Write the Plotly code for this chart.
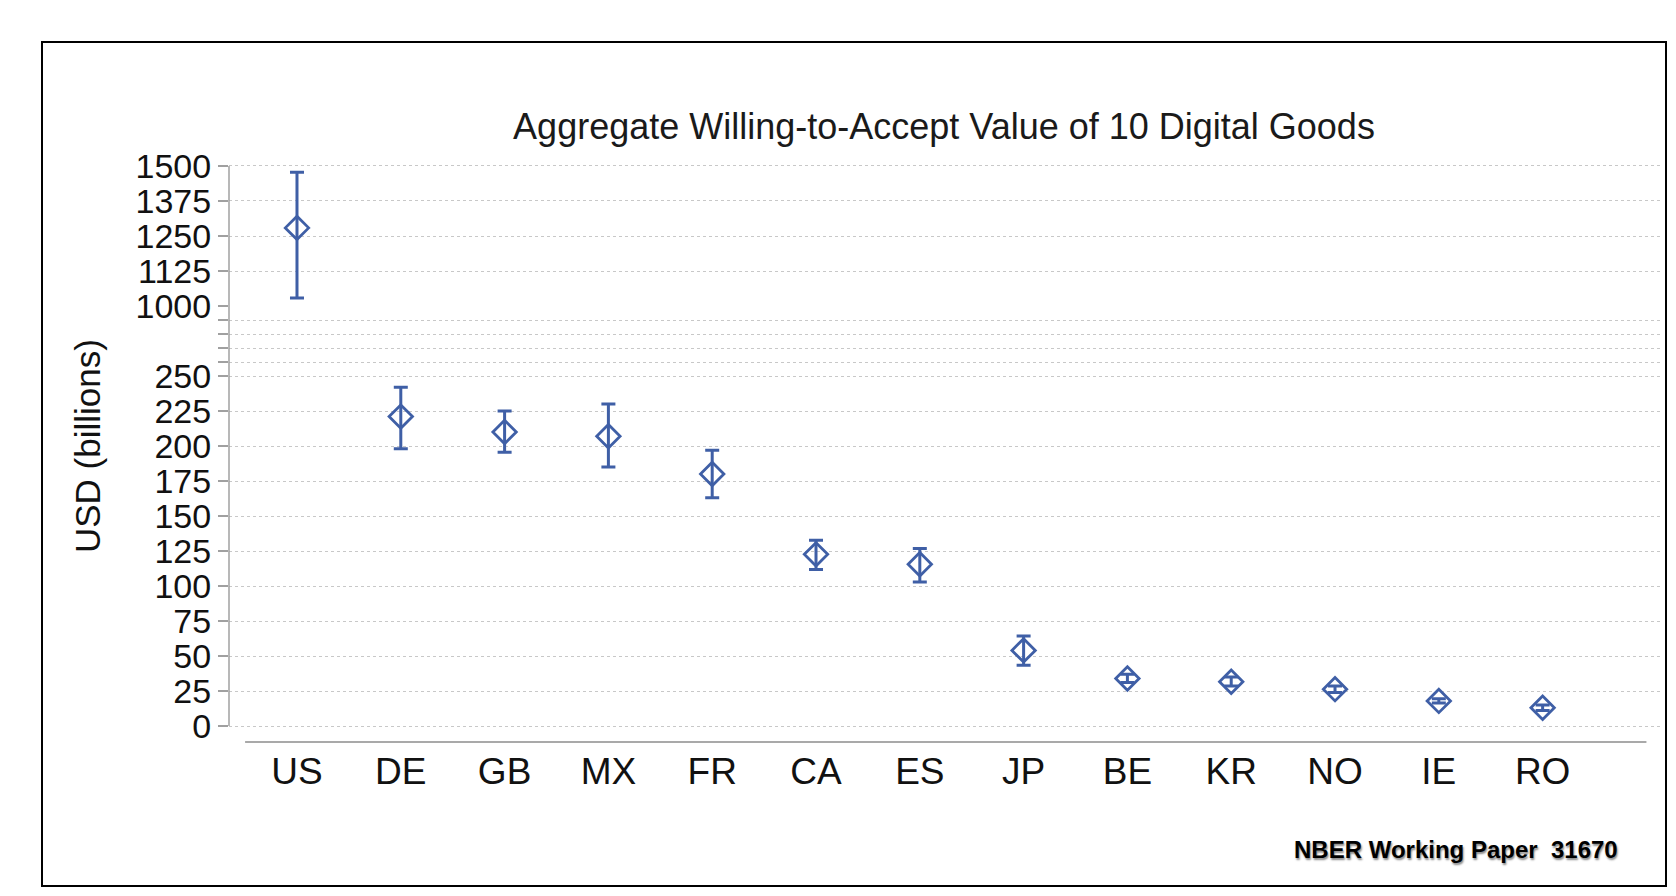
import plotly.graph_objects as go

# values (USD billions)
countries = ["US", "DE", "GB", "MX", "FR", "CA", "ES", "JP", "BE", "KR", "NO", "IE", "RO"]
estimate = [1279, 221, 210, 207, 180, 122.6, 115.5, 54, 33.9, 31.6, 26.3, 17.9, 13]
upper = [1478, 242, 225, 230, 197, 132.6, 126.7, 64.3, 37, 35, 28.5, 19.5, 15]
lower = [1029, 198, 195.5, 185, 163, 111.7, 102.9, 43.4, 31, 28.5, 24, 16.5, 11]

low_ticks = [0, 25, 50, 75, 100, 125, 150, 175, 200, 225, 250]
gap_ticks = [260, 270, 280, 290]
high_ticks = [1000, 1125, 1250, 1375, 1500]

OFF = 8  # page body margin; positions below are page pixels
W, H = 1676 - 2 * OFF, 896 - 2 * OFF  # keep the page free of scrollbars
L, R, T, B = 229 - OFF, 1662 - OFF, 160 - OFF, 742 - OFF
BLUE = "#3f5fa6"
GRID = "#c8c8c8"
AXIS = "#a0a0a0"
FONT = "Liberation Sans, Arial, sans-serif"


def paper_x(px):
    return (px - OFF - L) / (R - L)


def paper_y(py):
    return (B - (py - OFF)) / (B - T)


split = paper_y(306)  # where 1000 sits on the broken axis

# split countries by which half of the broken axis they live on
top_idx = [i for i, v in enumerate(estimate) if v >= 1000]
bot_idx = [i for i, v in enumerate(estimate) if v < 1000]


def make_trace(idx, yaxis):
    return go.Scatter(
        x=[countries[i] for i in idx],
        y=[estimate[i] for i in idx],
        yaxis=yaxis,
        mode="markers",
        marker=dict(symbol="diamond-open", size=18, color=BLUE, line=dict(width=2.8, color=BLUE)),
        error_y=dict(
            type="data",
            symmetric=False,
            array=[upper[i] - estimate[i] for i in idx],
            arrayminus=[estimate[i] - lower[i] for i in idx],
            color=BLUE,
            thickness=3,
            width=7,
        ),
        showlegend=False,
        hoverinfo="x+y",
    )


fig = go.Figure()
fig.add_trace(make_trace(bot_idx, "y"))
fig.add_trace(make_trace(top_idx, "y2"))

yax_common = dict(
    showgrid=True,
    gridcolor=GRID,
    gridwidth=1,
    griddash="dot",
    zeroline=False,
    showline=False,
    ticks="outside",
    ticklen=10,
    tickwidth=1.5,
    tickcolor=AXIS,
    ticklabelstandoff=0,
    tickfont=dict(family=FONT, size=34, color="#111111"),
    anchor="x",
)

fig.update_layout(
    width=W,
    height=H,
    paper_bgcolor="white",
    plot_bgcolor="white",
    margin=dict(l=L, r=W - R, t=T, b=H - B, autoexpand=False),
    font=dict(family=FONT, color="#111111"),
    title=dict(
        text="Aggregate Willing-to-Accept Value of 10 Digital Goods",
        x=(944 - OFF) / W,
        xanchor="center",
        y=1 - (126 - OFF) / H,
        yanchor="middle",
        font=dict(family=FONT, size=36, color="#1a1a1a"),
    ),
    xaxis=dict(
        type="category",
        categoryorder="array",
        categoryarray=countries,
        range=[-0.655, 13.15],
        showgrid=False,
        zeroline=False,
        showline=False,
        ticks="",
        ticklabelstandoff=4,
        tickfont=dict(family=FONT, size=37, color="#111111"),
        anchor="y",
    ),
    yaxis=dict(
        domain=[0, split],
        range=[-11.43, 300],
        tickvals=low_ticks + gap_ticks,
        ticktext=[str(v) for v in low_ticks] + ["" for _ in gap_ticks],
        **yax_common,
    ),
    yaxis2=dict(
        domain=[split, 1],
        range=[1000, 1521.4],
        tickvals=high_ticks,
        ticktext=[str(v) for v in high_ticks],
        **yax_common,
    ),
    shapes=[
        # y axis line, drawn across both halves
        dict(type="line", xref="paper", yref="y", x0=0, x1=0, y0=0, y1=300,
             line=dict(color=AXIS, width=1.5)),
        dict(type="line", xref="paper", yref="y2", x0=0, x1=0, y0=1000, y1=1500,
             line=dict(color=AXIS, width=1.5)),
        # x axis line
        dict(type="line", xref="x", yref="paper", x0=-0.5, x1=13, y0=0, y1=0,
             line=dict(color="#8c8c8c", width=1.5)),
        # outer frame
        dict(type="rect", xref="paper", yref="paper",
             x0=paper_x(42), x1=paper_x(1666), y0=paper_y(886), y1=paper_y(42),
             line=dict(color="black", width=2)),
    ],
    annotations=[
        dict(text="USD (billions)", textangle=-90, xref="paper", yref="paper",
             x=paper_x(87), y=paper_y(446), xanchor="center", yanchor="middle",
             showarrow=False, font=dict(family=FONT, size=35, color="#111111")),
        dict(text="NBER Working Paper  31670", xref="paper", yref="paper",
             x=paper_x(1456), y=paper_y(849), xanchor="center", yanchor="middle",
             showarrow=False,
             font=dict(family=FONT, size=24, color="black", weight="bold",
                       shadow="1px 2px 2px #888888")),
    ],
)

fig.write_html("out.html")
